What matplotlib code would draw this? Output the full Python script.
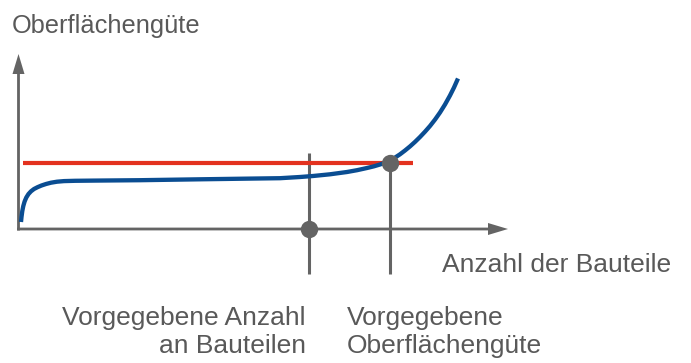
import matplotlib.pyplot as plt

plt.rcParams['font.family'] = ['Liberation Sans', 'DejaVu Sans']

# quality curve (x, y in drawing units, y grows downward)
curve_x = [21, 21.5, 22.3, 23.3, 24.6, 26.3, 28.5, 31, 34, 37.5, 41.5, 46, 51, 57, 64, 75, 94,
           140, 200, 250, 280, 300, 313, 330, 347, 357, 367, 374, 380, 385, 390, 395,
           400, 405, 410, 415, 420, 425, 430, 435, 440, 445, 450, 454, 458]
curve_y = [222, 217, 211, 206, 201.5, 197.5, 194, 191.3, 189, 187.2, 185.5, 184, 182.7, 181.7, 181.1, 180.8, 180.6,
           180.2, 179.3, 178.6, 178.2, 177, 176, 174.3, 172, 170.2, 168, 166.3, 164.5, 162.7, 160.5, 157.6,
           154.3, 150.5, 146.4, 141.9, 137, 131.7, 126, 119.6, 112.5, 104.5, 95.5, 87.5, 78.5]

# required quality level
limit_y = 162.5
limit_x = [23, 413.5]

# markers: given part count, given quality
count_x = 309
quality_x = 390
axis_y = 229

labels_y = 'Oberflächengüte'
labels_x = 'Anzahl der Bauteile'
label_count = 'Vorgegebene Anzahl\nan Bauteilen'
label_quality = 'Vorgegebene\nOberflächengüte'

gray = '#646464'
text_gray = '#595959'
blue = '#0a4d92'
red = '#e3321f'

fig = plt.figure(figsize=(6.91, 3.63), dpi=100)
ax = fig.add_axes([0, 0, 1, 1])
ax.set_xlim(0, 691)
ax.set_ylim(363, 0)
ax.axis('off')

# axes with arrow heads
ax.arrow(18.5, 230.5, 0, 54 - 230.5, width=2.8, head_width=12, head_length=20,
         length_includes_head=True, color=gray, lw=0)
ax.arrow(17, axis_y, 508 - 17, 0, width=2.8, head_width=12, head_length=20,
         length_includes_head=True, color=gray, lw=0)

# vertical guide lines
ax.plot([count_x, count_x], [153, 274], color=gray, lw=2.2, solid_capstyle='butt')
ax.plot([quality_x, quality_x], [limit_y, 274], color=gray, lw=2.2, solid_capstyle='butt')

ax.plot(limit_x, [limit_y, limit_y], color=red, lw=3, solid_capstyle='butt')
ax.plot(curve_x, curve_y, color=blue, lw=3.1, solid_capstyle='butt', solid_joinstyle='round')

ax.plot([count_x, quality_x], [axis_y, limit_y], 'o', color=gray, ms=12.5, mec='none')

ax.text(11.5, 32.5, labels_y, fontsize=18.3, color=text_gray, va='baseline', ha='left')
ax.text(442, 272, labels_x, fontsize=19, color=text_gray, va='baseline', ha='left')
ax.text(306, 353, label_count, fontsize=19, color=text_gray, va='baseline', ha='right',
        multialignment='right', linespacing=1.2)
ax.text(347, 353, label_quality, fontsize=19, color=text_gray, va='baseline', ha='left',
        linespacing=1.2)

fig.savefig('out.png', dpi=100)
